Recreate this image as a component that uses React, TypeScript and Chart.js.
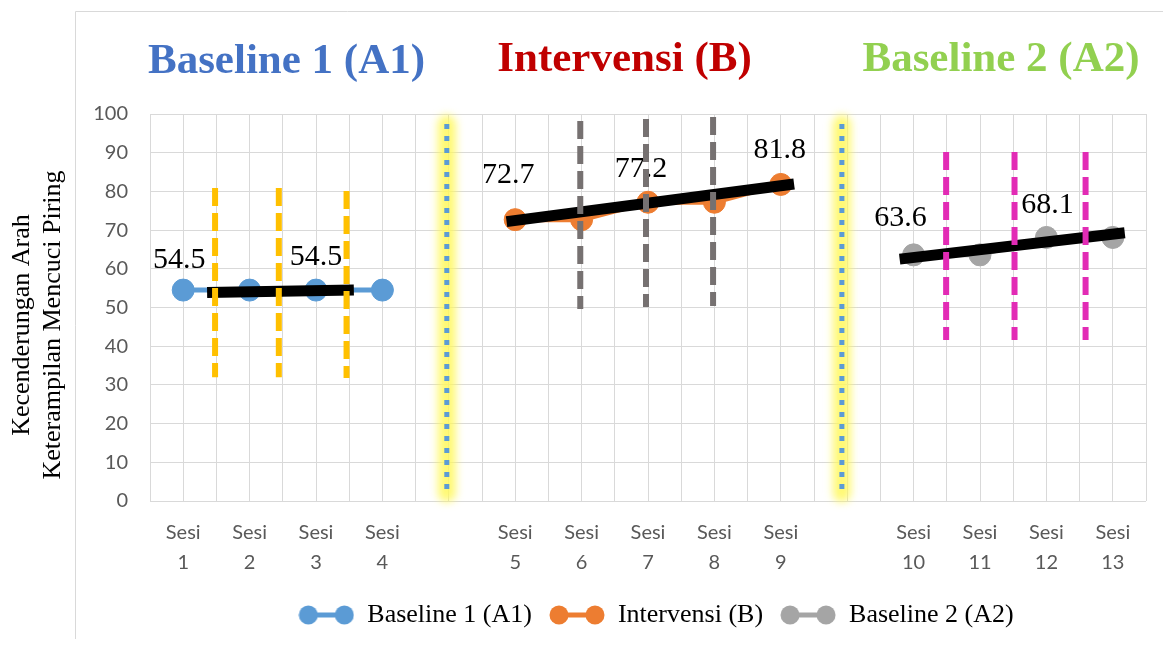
import React, { useEffect, useRef } from 'react';
import { Chart, registerables } from 'chart.js';

Chart.register(...registerables);

// Session slots along the x axis ('' = gap between phases)
const SESSION_LABELS = [
  'Sesi 1', 'Sesi 2', 'Sesi 3', 'Sesi 4', '',
  'Sesi 5', 'Sesi 6', 'Sesi 7', 'Sesi 8', 'Sesi 9', '',
  'Sesi 10', 'Sesi 11', 'Sesi 12', 'Sesi 13',
];

// Phase A1
const BASELINE1_X = [0, 1, 2, 3];
const BASELINE1 = [54.5, 54.5, 54.5, 54.5];
const BASELINE1_LABELLED = [true, false, true, false];

// Phase B
const INTERVENSI_X = [5, 6, 7, 8, 9];
const INTERVENSI = [72.7, 72.7, 77.2, 77.2, 81.8];
const INTERVENSI_LABELLED = [true, false, true, false, true];

// Phase A2
const BASELINE2_X = [11, 12, 13, 14];
const BASELINE2 = [63.6, 63.6, 68.1, 68.1];
const BASELINE2_LABELLED = [true, false, true, false];

// Trend (split-middle) lines per phase
const TREND_A1_X = [0.36, 2.57];
const TREND_A1_Y = [53.9, 54.5];
const TREND_B_X = [4.87, 9.2];
const TREND_B_Y = [72.2, 81.9];
const TREND_A2_X = [10.79, 14.18];
const TREND_A2_Y = [62.5, 69.3];

// Vertical split markers inside each phase
const A1_SPLIT_X = [0.48, 1.44, 2.46];
const A1_SPLIT_TOP = [80.9, 80.9, 80.1];
const A1_SPLIT_BOTTOM = [32.0, 32.0, 31.8];
const B_SPLIT_X = [5.98, 6.97, 7.98];
const B_SPLIT_TOP = [98.2, 98.7, 99.2];
const B_SPLIT_BOTTOM = [49.6, 50.1, 50.4];
const A2_SPLIT_X = [11.49, 12.52, 13.59];
const A2_SPLIT_TOP = [90.2, 90.2, 90.2];
const A2_SPLIT_BOTTOM = [41.6, 41.6, 41.6];

// Phase change lines
const PHASE_CHANGE_X = [3.97, 9.92];
const PHASE_CHANGE_TOP = [97.4, 97.4];
const PHASE_CHANGE_BOTTOM = [2.0, 2.0];

const Y_TICKS_MAX = 100;

// label nudges (dx, rise above point) in px
const A1_NUDGE = [[-4, 22], [0, 25]];
const B_NUDGE = [[-7, 37], [-7, 25], [-1, 26]];
const A2_NUDGE = [[-13, 29], [1, 24]];

const BLUE = '#5B9BD5';
const ORANGE = '#ED7D31';
const GRAY = '#A5A5A5';

const pts = (xs: number[], ys: number[]) => xs.map((x, i) => ({ x, y: ys[i] }));

function legendSwatch(color: string) {
  const c = document.createElement('canvas');
  c.width = 56;
  c.height = 22;
  const g = c.getContext('2d')!;
  g.strokeStyle = color;
  g.lineWidth = 5;
  g.beginPath();
  g.moveTo(10, 11);
  g.lineTo(46, 11);
  g.stroke();
  g.fillStyle = color;
  g.beginPath();
  g.arc(10, 11, 9.5, 0, Math.PI * 2);
  g.fill();
  g.beginPath();
  g.arc(46, 11, 9.5, 0, Math.PI * 2);
  g.fill();
  return c;
}

function seriesDataset(label: string, xs: number[], ys: number[], color: string, flags: boolean[], nudge: number[][]) {
  return {
    label,
    data: pts(xs, ys),
    borderColor: color,
    backgroundColor: color,
    borderWidth: 5,
    pointRadius: 11,
    pointBorderWidth: 1,
    pointHoverRadius: 11,
    pointBorderColor: color,
    pointBackgroundColor: color,
    order: 5,
    valueLabels: flags,
    labelNudge: nudge,
  };
}

function segment(x: number, top: number, bottom: number, color: string, width: number, dash: number[], order: number, extra: any = {}) {
  return {
    label: '',
    data: [{ x, y: top }, { x, y: bottom }],
    borderColor: color,
    backgroundColor: color,
    borderWidth: width,
    borderDash: dash,
    borderCapStyle: 'butt',
    pointRadius: 0,
    pointHoverRadius: 0,
    order,
    ...extra,
  };
}

const valueLabelsPlugin = {
  id: 'valueLabels',
  beforeDatasetsDraw(chart: any) {
    const ctx = chart.ctx;
    ctx.save();
    ctx.font = '30px "Liberation Serif", "Times New Roman", serif';
    ctx.fillStyle = '#000000';
    ctx.textAlign = 'center';
    ctx.textBaseline = 'alphabetic';
    chart.data.datasets.forEach((ds: any, di: number) => {
      if (!ds.valueLabels) return;
      const meta = chart.getDatasetMeta(di);
      let k = 0;
      meta.data.forEach((el: any, i: number) => {
        if (!ds.valueLabels[i]) return;
        const [dx, rise] = ds.labelNudge[k++] || [0, 25];
        ctx.fillText(ds.data[i].y.toFixed(1), el.x + dx, el.y - rise);
      });
    });
    ctx.restore();
  },
};

const glowPlugin = {
  id: 'glow',
  beforeDatasetDraw(chart: any, args: any) {
    if (chart.data.datasets[args.index].glow) {
      chart.ctx.save();
      chart.ctx.filter = 'blur(4px)';
    }
  },
  afterDatasetDraw(chart: any, args: any) {
    if (chart.data.datasets[args.index].glow) {
      chart.ctx.restore();
    }
  },
};

const legendShiftPlugin = {
  id: 'legendShift',
  afterLayout(chart: any) {
    const lg = chart.legend;
    if (lg) {
      lg.left += 8;
      lg.right += 8;
    }
  },
};

const decorPlugin = {
  id: 'decor',
  beforeDraw(chart: any) {
    const ctx = chart.ctx;
    ctx.save();
    ctx.strokeStyle = '#D9D9D9';
    ctx.lineWidth = 1;
    ctx.beginPath();
    ctx.moveTo(67.5, chart.height);
    ctx.lineTo(67.5, 3.5);
    ctx.lineTo(chart.width, 3.5);
    ctx.stroke();
    ctx.restore();
  },
  afterDraw(chart: any) {
    const ctx = chart.ctx;
    ctx.save();
    // phase titles
    const titles = [
      { text: 'Baseline 1 (A1)', color: '#4472C4', x: 278.5, y: 65 },
      { text: 'Intervensi (B)', color: '#C00000', x: 616.5, y: 63 },
      { text: 'Baseline 2 (A2)', color: '#92D050', x: 993, y: 63 },
    ];
    ctx.font = 'bold 43px "Liberation Serif", "Times New Roman", serif';
    ctx.textAlign = 'center';
    ctx.textBaseline = 'alphabetic';
    titles.forEach((t) => {
      ctx.fillStyle = t.color;
      ctx.fillText(t.text, t.x, t.y);
    });
    // y axis title (two lines)
    ctx.fillStyle = '#000000';
    ctx.font = '26px "Liberation Serif", "Times New Roman", serif';
    ctx.textBaseline = 'middle';
    const cy = 317;
    [['Kecenderungan Arah', 14], ['Keterampilan Mencuci Piring', 45]].forEach(([txt, x]: any) => {
      ctx.save();
      ctx.translate(x, cy);
      ctx.rotate(-Math.PI / 2);
      ctx.fillText(txt, 0, 0);
      ctx.restore();
    });
    ctx.restore();
  },
};

export default function App() {
  const canvasRef = useRef<HTMLCanvasElement>(null);

  useEffect(() => {
    const datasets: any[] = [
      seriesDataset('Baseline 1 (A1)', BASELINE1_X, BASELINE1, BLUE, BASELINE1_LABELLED, A1_NUDGE),
      seriesDataset('Intervensi (B)', INTERVENSI_X, INTERVENSI, ORANGE, INTERVENSI_LABELLED, B_NUDGE),
      seriesDataset('Baseline 2 (A2)', BASELINE2_X, BASELINE2, GRAY, BASELINE2_LABELLED, A2_NUDGE),
    ];

    // trend lines
    [[TREND_A1_X, TREND_A1_Y], [TREND_B_X, TREND_B_Y], [TREND_A2_X, TREND_A2_Y]].forEach(([xs, ys]) => {
      datasets.push({
        label: '',
        data: pts(xs, ys),
        borderColor: '#000000',
        backgroundColor: '#000000',
        borderWidth: 11,
        borderCapStyle: 'butt',
        pointRadius: 0,
        pointHoverRadius: 0,
        order: 3,
      });
    });

    // split markers
    A1_SPLIT_X.forEach((x, i) => datasets.push(segment(x, A1_SPLIT_TOP[i], A1_SPLIT_BOTTOM[i], '#FFC000', 6, [18, 7], 1)));
    B_SPLIT_X.forEach((x, i) => datasets.push(segment(x, B_SPLIT_TOP[i], B_SPLIT_BOTTOM[i], '#767171', 6, [18, 7], 1)));
    A2_SPLIT_X.forEach((x, i) => datasets.push(segment(x, A2_SPLIT_TOP[i], A2_SPLIT_BOTTOM[i], '#E22BB5', 6, [18, 7], 1)));

    // phase change lines with highlight
    PHASE_CHANGE_X.forEach((x, i) => {
      datasets.push(segment(x, PHASE_CHANGE_TOP[i], PHASE_CHANGE_BOTTOM[i], 'rgba(255, 248, 90, 0.85)', 18, [], 10, { glow: true, clip: false, borderCapStyle: 'round' }));
      datasets.push(segment(x, PHASE_CHANGE_TOP[i], PHASE_CHANGE_BOTTOM[i], BLUE, 5, [5, 7], 9));
    });

    const chart = new Chart(canvasRef.current as HTMLCanvasElement, {
      type: 'line',
      data: { datasets },
      options: {
        animation: false,
        responsive: false,
        layout: { padding: { top: 106, right: 15, bottom: 1, left: 0 } },
        scales: {
          x: {
            type: 'linear',
            min: -0.5,
            max: SESSION_LABELS.length - 0.5,
            grid: { color: '#D9D9D9', lineWidth: 1, drawTicks: false },
            border: { display: false },
            ticks: {
              stepSize: 0.5,
              autoSkip: false,
              maxRotation: 0,
              minRotation: 0,
              padding: 17,
              color: '#595959',
              font: { family: 'Lato', size: 20, lineHeight: 1.5 },
              callback: (value: any) => {
                const v = Number(value);
                const r = Math.round(v);
                if (Math.abs(v - r) > 1e-6) return '';
                const lab = SESSION_LABELS[r];
                return lab ? lab.split(' ') : '';
              },
            },
            afterFit: (scale: any) => {
              scale.height = 84;
            },
          },
          y: {
            min: 0,
            max: Y_TICKS_MAX,
            grid: { color: '#D9D9D9', lineWidth: 1, drawTicks: false },
            border: { display: false },
            ticks: {
              stepSize: 10,
              padding: 22,
              color: '#595959',
              font: { family: 'Lato', size: 20 },
            },
            afterFit: (scale: any) => {
              scale.width = 142;
            },
          },
        },
        plugins: {
          legend: {
            position: 'bottom',
            fullSize: false,
            labels: {
              usePointStyle: true,
              pointStyleWidth: 56,
              padding: 17,
              color: '#000000',
              font: { family: '"Liberation Serif", "Times New Roman", serif', size: 26 },
              generateLabels: () =>
                [
                  ['Baseline 1 (A1)', BLUE],
                  ['Intervensi (B)', ORANGE],
                  ['Baseline 2 (A2)', GRAY],
                ].map(([text, color], i) => ({
                  text,
                  fillStyle: color,
                  strokeStyle: color,
                  lineWidth: 0,
                  pointStyle: legendSwatch(color),
                  hidden: false,
                  datasetIndex: i,
                  fontColor: '#000000',
                })),
            },
          },
          tooltip: { enabled: false },
        },
      } as any,
      plugins: [glowPlugin, valueLabelsPlugin, legendShiftPlugin, decorPlugin],
    });

    return () => chart.destroy();
  }, []);

  return (
    <div style={{ width: 1155, height: 631 }}>
      <canvas ref={canvasRef} width={1155} height={631} style={{ display: 'block' }} />
    </div>
  );
}
